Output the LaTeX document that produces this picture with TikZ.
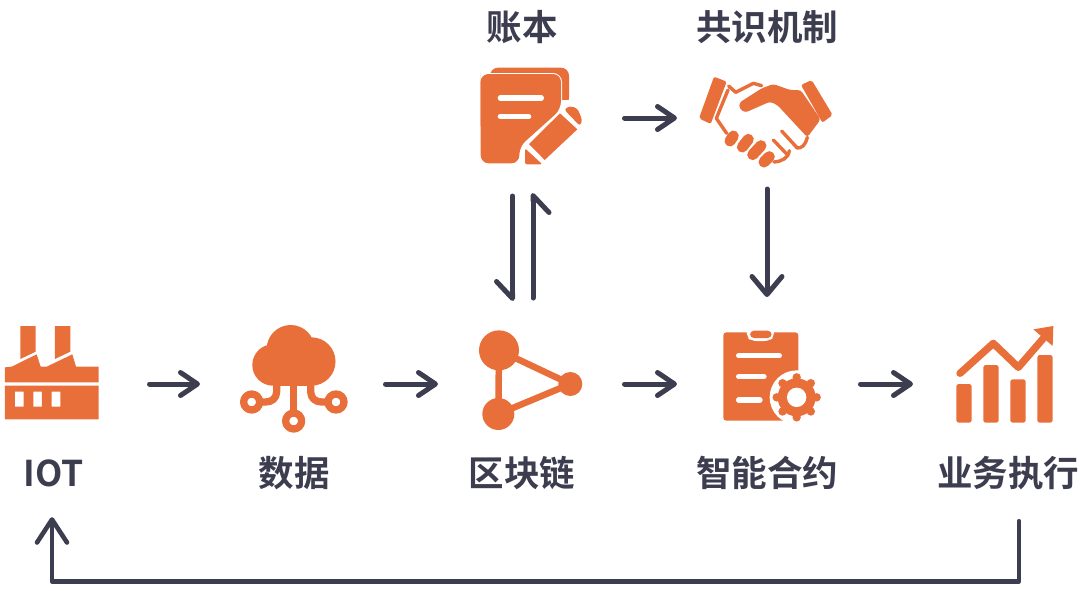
\documentclass[tikz,border=0pt]{standalone}
\usepackage{fontspec}
\setmainfont{Noto Sans CJK SC}[BoldFont={* Bold}]
\usetikzlibrary{arrows.meta}
\definecolor{ic}{HTML}{E86E3A}
\definecolor{ink}{HTML}{3D3D50}
\tikzset{
  lab/.style={font=\fontsize{35.5}{37}\selectfont\bfseries,text=ink,inner sep=0pt,text height=30pt,text depth=4pt},
  iconbox/.style={inner sep=0pt,outer sep=0pt,minimum height=#1},
  iconbox/.default=120pt,
  flowsmall/.style={draw=ink,line width=5pt,line cap=round,line join=round,
    -{Straight Barb[length=17pt,width=23pt,line width=5pt,round]}},
  flowtall/.style={draw=ink,line width=5pt,line cap=round,line join=round,
    -{Straight Barb[length=18pt,width=30pt,line width=5pt,round]}},
  harp/.style={draw=ink,line width=5pt,line cap=round,line join=round,
    -{Straight Barb[length=17pt,width=32pt,line width=5pt,round,harpoon,#1]}},
  trace/.style={x=.33333pt,y=-.33333pt},
  wl/.style={draw=white,line cap=round},
  ol/.style={draw=ic,line cap=round,line join=round},
}
\begin{document}
\begin{tikzpicture}[x=1pt,y=-1pt]
\useasboundingbox (0,0) rectangle (1080,590);
% invisible boxes marking each icon
\node[iconbox,minimum width=94pt]  (iot)      at (52,384)  {};
\node[iconbox,minimum width=108pt] (data)     at (294,384) {};
\node[iconbox,minimum width=104pt] (chain)    at (530,384) {};
\node[iconbox,minimum width=98pt]  (contract) at (772,384) {};
\node[iconbox,minimum width=100pt] (biz)      at (1005,384) {};
\node[iconbox=100pt,minimum width=104pt] (ledger) at (530,118) {};
\node[iconbox=100pt,minimum width=134pt] (hands)  at (766,118) {};
% labels
\node[lab] (lledger) at (522,27) {账本};
\node[lab] (lhands) at (767,27) {共识机制};
\node[lab] (liot) at (54,473) {IOT};
\node[lab] (ldata) at (294,473) {数据};
\node[lab] (lchain) at (522,473) {区块链};
\node[lab] (lcontract) at (767,473) {智能合约};
\node[lab] (lbiz) at (1008,473) {业务执行};

% factory
\begin{scope}[trace,shift={(0pt,-310pt)}]
\fill[ic] (61,48)--(107,48)--(107,125)--(61,147)--cycle;
\fill[ic] (165,48)--(211,48)--(211,125)--(165,147)--cycle;
\fill[ic] (15,172)--(35,170)--(110,133)--(122,170)--(140,170)--(217,133)--(228,170)--(296,170)--(296,217)--(15,217)--cycle;
\fill[ic,even odd rule] (15,227) rectangle (296,328)
  (45,245) rectangle (71,290) (100,245) rectangle (126,290) (155,245) rectangle (181,290);
\end{scope}
% cloud
\begin{scope}[trace,shift={(0pt,-310pt)}]
\fill[ic] (819,165) circle[radius=20.7pt] (934,154.5) circle[radius=24.2pt] (872,117) circle[radius=24pt];
\fill[ic] (819,150) rectangle (934,227);
\draw[ol,line width=7.3pt] (881,220)--(881,309);
\draw[ol,line width=7.3pt] (881,333) circle[radius=8pt];
\draw[ol,line width=7.3pt] (830,220)--(830,245) .. controls (830,265) and (815,276) .. (797,276)--(780,276);
\draw[ol,line width=7.3pt] (755,276) circle[radius=8pt];
\draw[ol,line width=7.3pt] (932,220)--(932,245) .. controls (932,265) and (947,276) .. (965,276)--(984,276);
\draw[ol,line width=7.3pt] (1008,276) circle[radius=8pt];
\end{scope}
% block chain
\begin{scope}[trace,shift={(460pt,-310pt)}]
\draw[ic,line width=6.5pt] (117,121)--(331,222)--(115,312)--cycle;
\fill[ic] (117,121) circle[radius=20pt] (115,312) circle[radius=16pt] (331,222) circle[radius=12pt];
\end{scope}
% clipboard with gear
\begin{scope}[trace,shift={(700pt,-310pt)}]
\fill[ic,rounded corners=3pt] (70,67) rectangle (295,332);
\fill[white,rounded corners=5pt] (140,55)--(222,55)--(222,80)--(208,93)--(154,93)--(140,80)--cycle;
\fill[ic,rounded corners=4pt] (150,62) rectangle (215,84);
\draw[wl,line width=5.3pt] (116,137)--(238,137) (116,200)--(192,200) (116,270)--(180,270);
\fill[white] (290,262) circle[radius=27pt];
\foreach \a in {0,45,...,315}{\fill[white] (290,262) ++(\a:60) circle[radius=6.3pt];}
\fill[ic] (290,262) circle[radius=19pt];
\foreach \a in {0,45,...,315}{\fill[ic] (290,262) ++(\a:60) circle[radius=4.2pt];}
\fill[white] (290,262) circle[radius=9.7pt];
\end{scope}
% chart
\begin{scope}[trace,shift={(700pt,-310pt)}]
\fill[ic,rounded corners=2.5pt] (769,222) rectangle (815,338);
\fill[ic,rounded corners=2.5pt] (850,165) rectangle (896,338);
\fill[ic,rounded corners=2.5pt] (931,208) rectangle (977,338);
\fill[ic,rounded corners=2.5pt] (1012,135) rectangle (1058,338);
\draw[ol,line width=7.3pt] (780,190)--(880,100)--(955,172)--(1030,85);
\fill[ic] (1000,58)--(1060,48)--(1058,108)--cycle;
\end{scope}
% ledger
\begin{scope}[trace,shift={(460pt,0pt)}]
\fill[ic,rounded corners=8pt] (90,203)--(327,203)--(327,318)--(200,318)--(90,318)--cycle;
\fill[ic,rounded corners=8pt] (62,222)--(303,222)--(303,400)--(62,400)--cycle;
\draw[white,line width=2pt,rounded corners=8pt] (62,222)--(303,222)--(303,330);
\fill[white] (303,300)--(340,300)--(340,330)--(180,470)--(170,420)--cycle;
\fill[ic,rounded corners=8pt] (62,240)--(62,490)--(178,490)--(178,440)--(303,328)--(303,222)--(62,222)--cycle;
\draw[wl,line width=5.3pt] (121,294)--(244,294) (121,350)--(206,350);
\fill[ic] (207,432)--(300,340)--(352,388)--(254,480)--cycle;
\fill[ic,rounded corners=3pt] (312,328)--(330,318)--(352,325)--(367,360)--(360,378)--cycle;
\fill[ic,rounded corners=2pt] (195,445)--(247,493)--(195,493)--cycle;
\end{scope}
% hands
\begin{scope}[trace,shift={(690pt,-60pt)}]
\fill[ic,rounded corners=2pt] (72,50)--(110,65)--(62,192)--(27,175)--cycle;
\fill[ic,rounded corners=2pt] (333,75)--(365,60)--(428,165)--(397,188)--cycle;
\fill[ic,rounded corners=3pt] (148,128)--(215,85)--(250,72)--(300,90)--(332,90)--(392,178)--(352,232)--(262,135)--(240,125)--(165,158)--(148,145)--cycle;
\draw[ol,line width=3.4pt] (116,78)--(137,97)--(190,70)--(215,77);
\draw[ol,line width=3.4pt] (114,90)--(79,175)--(110,220);
\draw[ol,line width=3.4pt] (250,240)--(292,284);
\draw[ol,line width=3.4pt] (275,213)--(320,262);
\draw[ol,line width=3.4pt] (352,232) .. controls (345,258) and (335,265) .. (320,264);
\draw[ol,line width=3.4pt] (252,306) .. controls (275,304) and (295,295) .. (298,272);
\draw[ol,line width=11pt] (130,228)--(120,243);
\draw[ol,line width=11pt] (175,238)--(157,261);
\draw[ol,line width=11pt] (213,257)--(188,284);
\draw[ol,line width=11pt] (238,290)--(222,306);
\end{scope}

% connectors
\draw[flowsmall,shorten <=50.5pt,shorten >=40pt] (iot.east)--(data.west);
\draw[flowsmall,shorten <=37.5pt,shorten >=40pt] (data.east)--(chain.west);
\draw[flowsmall,shorten <=42.5pt,shorten >=46pt] (chain.east)--(contract.west);
\draw[flowsmall,shorten <=39.5pt,shorten >=42pt] (contract.east)--(biz.west);
\draw[flowsmall,shorten <=42.5pt,shorten >=22pt] (ledger.east)--(hands.west);
\draw[flowtall,shorten <=21pt,shorten >=27pt] ([xshift=1pt]hands.south)--([xshift=-5pt]contract.north);
\draw[harp=swap,shorten <=28pt,shorten >=23pt] ([xshift=-17.5pt]ledger.south)--([xshift=-17.5pt]chain.north);
\draw[harp=swap,shorten <=26pt,shorten >=25pt] ([xshift=3pt]chain.north)--([xshift=3pt]ledger.south);
\draw[draw=ink,line width=4.6pt,line cap=round,line join=round,
  -{Straight Barb[length=23pt,width=30pt,line width=4.6pt,round]},shorten <=31pt,shorten >=27pt]
  ([xshift=11pt]lbiz.south)--++(0,91)-|([xshift=-2pt]liot.south);
\end{tikzpicture}
\end{document}
